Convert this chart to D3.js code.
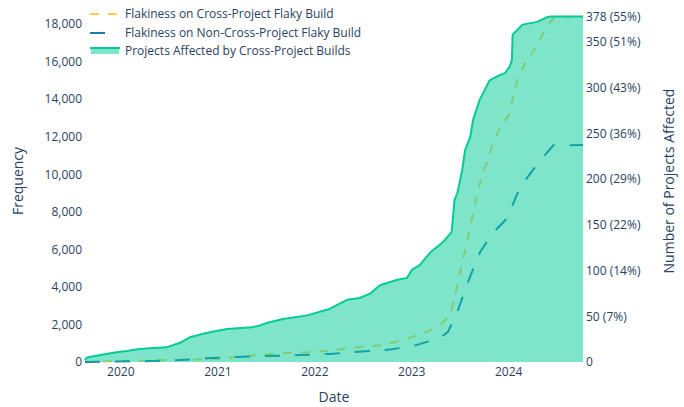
<!DOCTYPE html>
<html><head><meta charset="utf-8">
<script src="https://cdn.jsdelivr.net/npm/d3@7"></script>
<style>
html,body{margin:0;padding:0;background:#fff;}
svg{display:block;font-family:"Open Sans",verdana,arial,sans-serif;}
</style></head>
<body><svg id="chart" width="684" height="407"></svg>
<script>
// ---- data ----
const projDates = ["2019-08-21","2019-08-29","2019-10-08","2019-11-14","2019-12-24","2020-01-26","2020-03-06","2020-04-22","2020-06-23","2020-08-13","2020-09-19","2020-11-09","2020-12-12","2021-02-06","2021-03-18","2021-05-11","2021-06-10","2021-07-09","2021-09-05","2021-12-05","2022-02-27","2022-05-04","2022-06-21","2022-07-31","2022-09-05","2022-11-10","2022-12-16","2023-01-04","2023-02-02","2023-03-14","2023-04-30","2023-06-02","2023-06-13","2023-06-24","2023-07-12","2023-07-23","2023-08-11","2023-08-22","2023-09-16","2023-10-23","2023-12-02","2023-12-20","2024-01-07","2024-01-15","2024-01-18","2024-02-24","2024-04-19","2024-05-25","2024-06-12","2024-10-09"];
const projCounts = [2,5,7,9,11,12,14,15,16,21,27,31,33,36,37,38,40,43,47,51,58,68,70,75,84,90,92,101,106,120,131,142,177,185,210,232,246,265,287,308,314,316,323,330,358,369,372,377,378,378];

const crossDates = ["2019-08-21","2020-01-01","2021-01-01","2021-03-16","2021-09-06","2022-01-12","2022-05-16","2022-09-17","2022-12-01","2023-03-01","2023-04-20","2023-05-27","2023-06-15","2023-06-26","2023-07-15","2023-08-03","2023-08-22","2023-09-09","2023-09-24","2023-10-17","2023-11-04","2023-12-01","2024-01-08","2024-01-19","2024-02-07","2024-03-05","2024-04-11","2024-05-08","2024-06-08","2024-06-27","2024-10-09"];
const crossValues = [0,50,160,270,480,530,745,900,1170,1600,1970,2500,3460,4360,5430,6650,7930,9040,9950,10750,11650,12450,13250,14100,15100,15900,16700,17400,18090,18400,18400];

const nonDates = ["2019-08-21","2020-04-22","2020-08-13","2020-12-04","2021-03-16","2021-11-08","2022-03-01","2022-05-27","2022-10-13","2023-01-08","2023-04-20","2023-05-19","2023-06-22","2023-07-23","2023-08-10","2023-09-17","2023-11-04","2024-01-01","2024-01-19","2024-02-15","2024-04-11","2024-05-12","2024-06-19","2024-10-09"];
const nonValues = [0,50,100,210,270,370,430,530,660,850,1280,1600,2600,3830,4520,5850,6860,7710,8400,9310,10370,10900,11540,11550];

const leftTicks = [0,2000,4000,6000,8000,10000,12000,14000,16000,18000];
const rightTicks = [0,50,100,150,200,250,300,350,378];
const rightTickLabels = ["0","50 (7%)","100 (14%)","150 (22%)","200 (29%)","250 (36%)","300 (43%)","350 (51%)","378 (55%)"];
const legendLabels = ["Flakiness on Cross-Project Flaky Build","Flakiness on Non-Cross-Project Flaky Build","Projects Affected by Cross-Project Builds"];

// ---- layout ----
const L = 85, R = 583, T = 16.4, B = 362;
const txt = "#2a3f5f";
const parse = d3.timeParse("%Y-%m-%d");
const svg = d3.select("#chart");

const allDates = projDates.concat(crossDates, nonDates).map(parse);
const x = d3.scaleTime().domain(d3.extent(allDates)).range([L, R]);
const yL = d3.scaleLinear().domain([0, d3.max(crossValues)]).range([B, T]);
const yR = d3.scaleLinear().domain([0, d3.max(projCounts)]).range([B, T]);

const cross = crossDates.map((d,i)=>({d:parse(d), v:crossValues[i]}));
const non = nonDates.map((d,i)=>({d:parse(d), v:nonValues[i]}));
const proj = projDates.map((d,i)=>({d:parse(d), v:projCounts[i]}));

// lines (drawn under the translucent area)
svg.append("path").datum(cross)
  .attr("d", d3.line().x(p=>x(p.d)).y(p=>yL(p.v)))
  .attr("fill","none").attr("stroke","#fecb52").attr("stroke-width",2)
  .attr("stroke-dasharray","9,9");
svg.append("path").datum(non)
  .attr("d", d3.line().x(p=>x(p.d)).y(p=>yL(p.v)))
  .attr("fill","none").attr("stroke","#1f77b4").attr("stroke-width",2)
  .attr("stroke-dasharray","15,15");

// area
svg.append("path").datum(proj)
  .attr("d", d3.area().x(p=>x(p.d)).y0(yR(0)).y1(p=>yR(p.v)))
  .attr("fill","rgba(0,204,150,0.5)");
svg.append("path").datum(proj)
  .attr("d", d3.line().x(p=>x(p.d)).y(p=>yR(p.v)))
  .attr("fill","none").attr("stroke","#00cc96").attr("stroke-width",2)
  .attr("stroke-linejoin","round");

// axes
const fmt = d3.format(",");
const gL = svg.append("g").attr("transform",`translate(${L},0)`)
  .call(d3.axisLeft(yL).tickValues(leftTicks).tickFormat(fmt).tickSize(0).tickPadding(3));
const gR = svg.append("g").attr("transform",`translate(${R},0)`)
  .call(d3.axisRight(yR).tickValues(rightTicks).tickFormat((d,i)=>rightTickLabels[i]).tickSize(0).tickPadding(3));
const gX = svg.append("g").attr("transform",`translate(0,${B})`)
  .call(d3.axisBottom(x).ticks(d3.timeYear.every(1)).tickFormat(d3.timeFormat("%Y")).tickSize(0).tickPadding(5));
[gL,gR,gX].forEach(g=>{
  g.select(".domain").remove();
  g.selectAll("text").attr("fill",txt).style("font-size","12px").style("font-family",'"Open Sans",verdana,arial,sans-serif');
});

// axis titles
svg.append("text").attr("transform",`translate(23,181) rotate(-90)`)
  .attr("text-anchor","middle").attr("fill",txt).style("font-size","14px").text("Frequency");
svg.append("text").attr("transform",`translate(674,181) rotate(-90)`)
  .attr("text-anchor","middle").attr("fill",txt).style("font-size","14px").text("Number of Projects Affected");
svg.append("text").attr("x",(L+R)/2).attr("y",402)
  .attr("text-anchor","middle").attr("fill",txt).style("font-size","14px").text("Date");

// legend
const lg = svg.append("g");
const rows = [14, 33, 51];
lg.append("line").attr("x1",90).attr("x2",120).attr("y1",rows[0]).attr("y2",rows[0])
  .attr("stroke","#fecb52").attr("stroke-width",2).attr("stroke-dasharray","9,9").attr("stroke-dashoffset",-0);
lg.append("line").attr("x1",90).attr("x2",120).attr("y1",rows[1]).attr("y2",rows[1])
  .attr("stroke","#1f77b4").attr("stroke-width",2).attr("stroke-dasharray","15,15");
lg.append("rect").attr("x",91).attr("y",rows[2]-3).attr("width",28).attr("height",6)
  .attr("fill","rgba(0,204,150,0.5)");
lg.append("line").attr("x1",90).attr("x2",120).attr("y1",rows[2]-3).attr("y2",rows[2]-3)
  .attr("stroke","#00cc96").attr("stroke-width",2);
legendLabels.forEach((t,i)=>{
  lg.append("text").attr("x",125).attr("y",rows[i]).attr("dy","0.35em")
    .attr("fill",txt).style("font-size","12px").text(t);
});
</script></body></html>
